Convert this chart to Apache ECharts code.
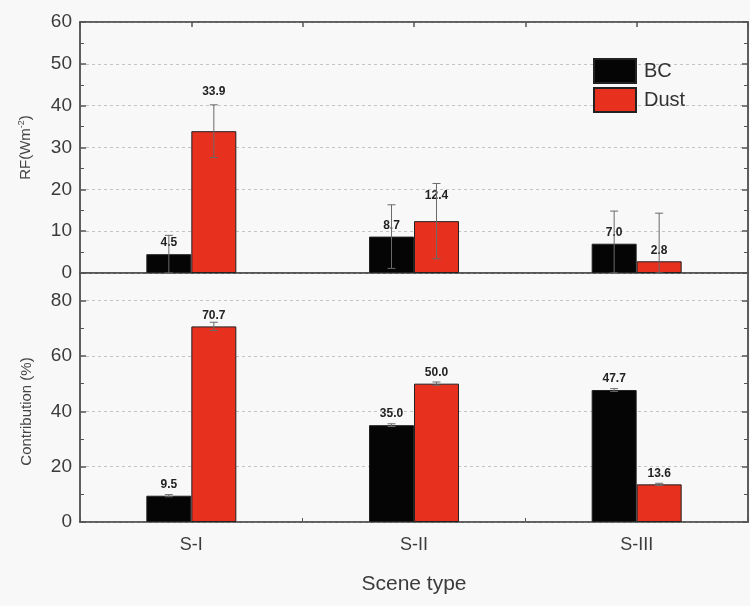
<!DOCTYPE html>
<html>
<head>
<meta charset="utf-8">
<script src="https://cdn.jsdelivr.net/npm/echarts@6/dist/echarts.min.js"></script>
<style>
html,body{margin:0;padding:0;background:#f8f8f8;}
#c{width:750px;height:606px;}
</style>
</head>
<body>
<div id="c"></div>
<script>
// ---- data ----
const categories = ['S-I', 'S-II', 'S-III'];
const rfBC = [4.5, 8.7, 7.0];
const rfDust = [33.9, 12.4, 2.8];
const rfBCErr = [4.5, 7.6, 7.8];
const rfDustErr = [6.3, 9.0, 11.5];
const contBC = [9.5, 35.0, 47.7];
const contDust = [70.7, 50.0, 13.6];
const contBCErr = [0.4, 0.5, 0.5];
const contDustErr = [1.5, 0.6, 0.4];
const rfTicks = [0, 10, 20, 30, 40, 50, 60];
const contTicks = [0, 20, 40, 60, 80];

// ---- style ----
const RED = '#e8301f';
const BLACK = '#050505';
const AXC = '#555';
const FONT = 'Liberation Sans, Arial, sans-serif';
const BAR_W = 45;
const rfLabelLiftBC = [5, 5, 5];
const rfLabelLiftDust = [33, 19, 5];

const chart = echarts.init(document.getElementById('c'));

function errSeries(name, xIdx, yIdx, vals, errs, side) {
  return {
    type: 'custom', name: name, xAxisIndex: xIdx, yAxisIndex: yIdx, z: 5,
    data: vals.map((v, i) => [i, v, errs[i]]),
    renderItem: function (params, api) {
      const i = api.value(0), v = api.value(1), e = api.value(2);
      const hi = api.coord([i, v + e]);
      const lo = api.coord([i, Math.max(v - e, 0)]);
      const x = hi[0] + side * BAR_W / 2;
      const cap = 4;
      const st = { stroke: '#6a6a6a', lineWidth: 1 };
      return { type: 'group', children: [
        { type: 'line', shape: { x1: x, y1: hi[1], x2: x, y2: lo[1] }, style: st },
        { type: 'line', shape: { x1: x - cap, y1: hi[1], x2: x + cap, y2: hi[1] }, style: st },
        { type: 'line', shape: { x1: x - cap, y1: lo[1], x2: x + cap, y2: lo[1] }, style: st }
      ]};
    }
  };
}

function barSeries(name, xIdx, yIdx, vals, color, lifts) {
  return {
    type: 'bar', name: name, xAxisIndex: xIdx, yAxisIndex: yIdx,
    barWidth: BAR_W, barGap: '0%',
    itemStyle: { color: color, borderColor: '#222', borderWidth: 1 },
    label: { show: true, position: 'top', fontSize: 12, fontWeight: 'bold', color: '#222', fontFamily: FONT,
      formatter: p => p.value.toFixed(1) },
    data: vals.map((v, i) => lifts ? { value: v, label: { distance: lifts[i] } } : v)
  };
}

const yCommon = {
  type: 'value',
  axisLine: { show: true, onZero: false, lineStyle: { color: AXC, width: 1.5 } },
  axisTick: { show: true, inside: true, length: 6, lineStyle: { color: AXC, width: 1.5 } },
  minorTick: { show: true, splitNumber: 2, length: 4, lineStyle: { color: AXC } },
  axisLabel: { fontSize: 19, color: '#3c3c3c', fontFamily: FONT, margin: 8 },
  splitLine: { show: true, lineStyle: { color: '#c4c4c4', type: [3, 3] } }
};
const yRight = {
  type: 'value', position: 'right',
  axisLine: { show: true, onZero: false, lineStyle: { color: AXC, width: 1.5 } },
  axisTick: { show: true, inside: true, length: 6, lineStyle: { color: AXC, width: 1.5 } },
  minorTick: { show: true, splitNumber: 2, length: 4, lineStyle: { color: AXC } },
  axisLabel: { show: false }, splitLine: { show: false }
};

chart.setOption({
  backgroundColor: '#f8f8f8',
  animation: false,
  textStyle: { fontFamily: FONT },
  legend: {
    data: ['BC', 'Dust'], orient: 'vertical', left: 593, top: 58, padding: 0,
    itemWidth: 42, itemHeight: 24, itemGap: 3, icon: 'rect',
    textStyle: { fontSize: 20, color: '#333', fontFamily: FONT, padding: [0, 0, 0, 3] }
  },
  grid: [
    { left: 80, top: 22, width: 668, height: 251, show: true, borderColor: AXC, borderWidth: 1.5 },
    { left: 80, top: 273, width: 668, height: 249, show: true, borderColor: AXC, borderWidth: 1.5 }
  ],
  xAxis: [
    { type: 'category', gridIndex: 0, data: categories, position: 'bottom',
      axisLine: { onZero: false, lineStyle: { color: AXC, width: 1.5 } }, axisTick: { show: false }, axisLabel: { show: false } },
    { type: 'value', gridIndex: 0, position: 'top', min: -0.5, max: 2.5, interval: 0.5,
      axisLine: { show: true, onZero: false, lineStyle: { color: AXC, width: 1.5 } },
      axisTick: { show: true, inside: true, length: 5, lineStyle: { color: AXC, width: 1.5 } },
      axisLabel: { show: false }, splitLine: { show: false } },
    { type: 'category', gridIndex: 1, data: categories, position: 'bottom',
      name: 'Scene type', nameLocation: 'middle', nameGap: 52,
      nameTextStyle: { fontSize: 21, color: '#3c3c3c', fontFamily: FONT },
      axisLine: { onZero: false, lineStyle: { color: AXC, width: 1.5 } },
      axisTick: { show: true, inside: true, length: 4, lineStyle: { color: AXC } },
      axisLabel: { fontSize: 18, color: '#3c3c3c', fontFamily: FONT, margin: 14 } }
  ],
  yAxis: [
    Object.assign({}, yCommon, { gridIndex: 0, min: rfTicks[0], max: rfTicks[rfTicks.length - 1], interval: rfTicks[1] - rfTicks[0],
      name: '{a|RF(Wm}{s|-2}{a|)}', nameLocation: 'middle', nameGap: 46, nameRotate: 90,
      nameTextStyle: { rich: {
        a: { fontSize: 15, color: '#444', fontFamily: FONT },
        s: { fontSize: 9, color: '#444', fontFamily: FONT, verticalAlign: 'top', padding: [0, 0, 8, 0] } } } }),
    Object.assign({}, yCommon, { gridIndex: 1, min: 0, max: 90, interval: contTicks[1] - contTicks[0],
      axisLabel: Object.assign({}, yCommon.axisLabel, { showMaxLabel: false }),
      name: 'Contribution (%)', nameLocation: 'middle', nameGap: 46, nameRotate: 90,
      nameTextStyle: { fontSize: 15, color: '#444', fontFamily: FONT, padding: [0, 0, 0, -28] } }),
    Object.assign({}, yRight, { gridIndex: 0, min: 0, max: 60, interval: 10 }),
    Object.assign({}, yRight, { gridIndex: 1, min: 0, max: 90, interval: 20 })
  ],
  series: [
    barSeries('BC', 0, 0, rfBC, BLACK, rfLabelLiftBC),
    barSeries('Dust', 0, 0, rfDust, RED, rfLabelLiftDust),
    barSeries('BC', 2, 1, contBC, BLACK),
    barSeries('Dust', 2, 1, contDust, RED),
    errSeries('errRFBC', 0, 0, rfBC, rfBCErr, -1),
    errSeries('errRFDust', 0, 0, rfDust, rfDustErr, 1),
    errSeries('errCBC', 2, 1, contBC, contBCErr, -1),
    errSeries('errCDust', 2, 1, contDust, contDustErr, 1)
  ]
});
</script>
</body>
</html>
